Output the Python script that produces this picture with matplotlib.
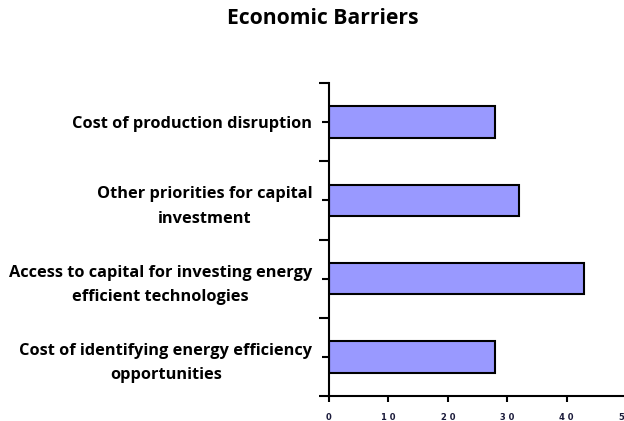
import matplotlib.pyplot as plt
import numpy as np

plt.rcParams['font.family'] = ['Open Sans', 'DejaVu Sans']

categories = ['Cost of production disruption',
              'Other priorities for capital\ninvestment',
              'Access to capital for investing energy\nefficient technologies',
              'Cost of identifying energy efficiency\nopportunities']
values = [28, 32, 43, 28]
xticks = [0, 10, 20, 30, 40, 50]

fig = plt.figure(figsize=(6.24, 4.21), dpi=100)
ax = fig.add_axes([329/624, 1-396/421, (626-329)/624, (396-83)/421])

pos = np.arange(len(categories))
ax.barh(pos, values, height=0.4, color='#9999ff', edgecolor='black', linewidth=1.5)

ax.set_ylim(len(categories)-0.5, -0.5)
ax.set_xlim(0, 50)

# ticks at category centres and boundaries
ax.set_yticks(pos)
ax.set_yticklabels(categories, fontsize=11.8, fontweight='bold', ha='right',
                   multialignment='center', linespacing=1.7)
ax.set_yticks(np.arange(-0.5, len(categories), 1), minor=True)
ax.tick_params(axis='y', which='minor', length=7, width=1.5)
ax.tick_params(axis='y', which='major', length=5, width=1.5, pad=7)

ax.set_xticks(xticks)
ax.set_xticklabels([' '.join(str(t)) for t in xticks], fontsize=6, fontweight='bold', color='#1a1a3a',
                   family='DejaVu Sans')
ax.tick_params(axis='x', length=4, width=1.5, pad=8)

for s in ['top', 'right']:
    ax.spines[s].set_visible(False)
for s in ['left', 'bottom']:
    ax.spines[s].set_linewidth(1.5)

fig.text(0.518, 0.955, 'Economic Barriers', ha='center', va='center', fontsize=15.2, fontweight='bold')

plt.savefig('out.png', dpi=100)
